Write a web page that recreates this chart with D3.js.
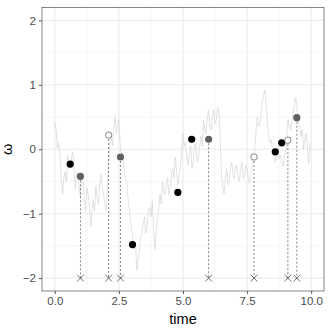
<!DOCTYPE html>
<html lang="en">
  <head>
    <meta charset="UTF-8" />
    <title></title>
    <script src="https://d3js.org/d3.v7.min.js"></script>
    <style>
      body { margin: 0; background: #fff; }
      text { font-family: 'Liberation Sans', Arial, sans-serif; }
    </style>
  </head>
  <body>
    <div id="my_dataviz"></div>
    <script>
      // path values, read every 0.05 time units from 0 to 10
      const pathTime = d3.range(0, 201).map(i => i / 20)
      const pathOmega = [
        0.42, 0.3, 0.02, 0.1, -0.12, -0.4, -0.7, -0.45, -0.35, -0.5,
        -0.1, -0.3, -0.25, -0.1, -0.04, -0.3, -0.62, -0.35, -0.4, -0.6,
        -0.74, -0.45, -0.5, -0.8, -0.95, -0.6, -0.7, -0.9, -1.2, -0.95,
        -0.8, -0.95, -0.58, -0.75, -0.85, -0.55, -0.38, -0.6, -0.7, -0.85,
        -0.95, -0.6, -0.17, 0.1, 0.2, 0.05, 0.35, 0.5, 0.25, 0.4,
        0.46, 0.1, -0.15, -0.05, -0.3, -0.45, -0.5, -0.75, -0.9, -1.1,
        -1.25, -1.4, -1.55, -1.45, -1.88, -1.7, -1.55, -1.35, -1.3, -1.15,
        -1.05, -1.3, -1.2, -0.95, -0.9, -1.05, -0.8, -1.2, -1.55, -1.3,
        -1.1, -0.95, -0.7, -0.85, -0.5, -0.65, -0.7, -0.55, -0.45, -0.7,
        -0.6, -0.4, -0.3, -0.45, -0.12, -0.35, -0.55, -0.4, -0.25, -0.05,
        0.25, 0.05, 0.1, -0.1, -0.25, -0.05, 0.05, -0.3, -0.2, 0.05,
        0.1, -0.2, -0.15, 0.05, 0.2, 0.05, 0.45, 0.3, 0.25, 0.5,
        0.6, 0.35, 0.3, 0.5, 0.62, 0.4, 0.45, 0.65, 0.63, 0.2,
        -0.4, -0.55, -0.69, -0.45, -0.3, -0.55, -0.5, -0.3, -0.2, -0.4,
        -0.45, -0.25, -0.25, -0.45, -0.5, -0.3, -0.2, -0.45, -0.4, -0.25,
        -0.3, -0.45, -0.53, -0.35, -0.25, -0.12, 0.0, 0.3, 0.5, 0.35,
        0.4, 0.6, 0.75, 0.86, 0.92, 0.65, 0.4, 0.15, 0.1, 0.15,
        -0.05, 0.0, -0.2, -0.1, 0.05, -0.15, -0.1, -0.2, -0.27, -0.1,
        -0.05, 0.2, 0.45, 0.35, 0.3, 0.45, 0.55, 0.7, 0.81, 0.6,
        0.4, 0.35, 0.2, 0.3, 0.0, 0.15, 0.25, 0.05, -0.22, 0.05,
        0.1
      ]

      // black points (no observation)
      const hiddenTime = [0.6, 3.03, 4.8, 5.34, 8.6, 8.85]
      const hiddenOmega = [-0.23, -1.48, -0.67, 0.155, -0.04, 0.1]
      // grey points (observed)
      const obsTime = [1.0, 2.56, 6.0, 9.44]
      const obsOmega = [-0.42, -0.12, 0.155, 0.49]
      // open points (observed)
      const openTime = [2.1, 7.77, 9.09]
      const openOmega = [0.22, -0.12, 0.14]

      const xTicks = [0, 2.5, 5, 7.5, 10]
      const yTicks = [-2, -1, 0, 1, 2]
      const xMinor = [1.25, 3.75, 6.25, 8.75]
      const yMinor = [-1.5, -0.5, 0.5, 1.5]

      const W = 332, H = 332
      const margin = { top: 7.5, right: 8, bottom: 41, left: 42 }
      const width = W - margin.left - margin.right,
        height = H - margin.top - margin.bottom

      const svg = d3
        .select('#my_dataviz')
        .append('svg')
        .attr('width', W)
        .attr('height', H)
        .append('g')
        .attr('transform', `translate(${margin.left}, ${margin.top})`)

      const x = d3.scaleLinear().domain([-0.5, 10.5]).range([0, width])
      const y = d3.scaleLinear().domain([-2.2, 2.2]).range([height, 0])

      // grid
      svg.selectAll('.xminor').data(xMinor).join('line')
        .attr('x1', d => x(d)).attr('x2', d => x(d))
        .attr('y1', 0).attr('y2', height)
        .attr('stroke', '#f2f2f2').attr('stroke-width', 0.6)
      svg.selectAll('.yminor').data(yMinor).join('line')
        .attr('y1', d => y(d)).attr('y2', d => y(d))
        .attr('x1', 0).attr('x2', width)
        .attr('stroke', '#f2f2f2').attr('stroke-width', 0.6)
      svg.selectAll('.xmajor').data(xTicks).join('line')
        .attr('x1', d => x(d)).attr('x2', d => x(d))
        .attr('y1', 0).attr('y2', height)
        .attr('stroke', '#ebebeb').attr('stroke-width', 1.1)
      svg.selectAll('.ymajor').data(yTicks).join('line')
        .attr('y1', d => y(d)).attr('y2', d => y(d))
        .attr('x1', 0).attr('x2', width)
        .attr('stroke', '#ebebeb').attr('stroke-width', 1.1)

      // path
      const line = d3.line().x(d => x(d[0])).y(d => y(d[1]))
      svg.append('path')
        .datum(pathTime.map((t, i) => [t, pathOmega[i]]))
        .attr('d', line)
        .attr('fill', 'none')
        .attr('stroke', '#cfcfcf')
        .attr('stroke-width', 0.6)

      // dashed drop lines and crosses
      const dropT = obsTime.concat(openTime)
      const dropW = obsOmega.concat(openOmega)
      svg.selectAll('.drop').data(dropT).join('line')
        .attr('x1', d => x(d)).attr('x2', d => x(d))
        .attr('y1', (d, i) => y(dropW[i])).attr('y2', y(-2))
        .attr('stroke', '#333').attr('stroke-width', 0.6)
        .attr('stroke-dasharray', '2,2')
      const cr = 3.4
      svg.selectAll('.cross').data(dropT).join('path')
        .attr('d', d => `M${x(d) - cr},${y(-2) - cr}L${x(d) + cr},${y(-2) + cr}M${x(d) - cr},${y(-2) + cr}L${x(d) + cr},${y(-2) - cr}`)
        .attr('stroke', '#333').attr('stroke-width', 0.7).attr('fill', 'none')

      // points
      svg.selectAll('.hid').data(hiddenTime).join('circle')
        .attr('cx', d => x(d)).attr('cy', (d, i) => y(hiddenOmega[i]))
        .attr('r', 3.6).attr('fill', '#000')
      svg.selectAll('.obs').data(obsTime).join('circle')
        .attr('cx', d => x(d)).attr('cy', (d, i) => y(obsOmega[i]))
        .attr('r', 3.6).attr('fill', '#616161')
      svg.selectAll('.opn').data(openTime).join('circle')
        .attr('cx', d => x(d)).attr('cy', (d, i) => y(openOmega[i]))
        .attr('r', 3.2).attr('fill', '#fff')
        .attr('stroke', '#555').attr('stroke-width', 0.7)

      // panel border
      svg.append('rect')
        .attr('width', width).attr('height', height)
        .attr('fill', 'none').attr('stroke', '#333').attr('stroke-width', 0.6)

      // axes
      const xAxis = svg.append('g')
        .attr('transform', `translate(0, ${height})`)
        .call(d3.axisBottom(x).tickValues(xTicks).tickSize(3).tickPadding(3)
          .tickFormat(d3.format('.1f')))
      const yAxis = svg.append('g')
        .call(d3.axisLeft(y).tickValues(yTicks).tickSize(3).tickPadding(3)
          .tickFormat(d => d < 0 ? '\u2212' + Math.abs(d) : d))
      ;[xAxis, yAxis].forEach(a => {
        a.select('.domain').remove()
        a.selectAll('.tick line').attr('stroke', '#333').attr('stroke-width', 0.8)
        a.selectAll('.tick text').attr('fill', '#4d4d4d')
          .style('font-size', '11.5px')
          .style('font-family', "'Liberation Sans', Arial, sans-serif")
      })

      // axis titles
      svg.append('text')
        .attr('x', width / 2).attr('y', height + 33)
        .attr('text-anchor', 'middle')
        .style('font-size', '14.5px')
        .text('time')
      svg.append('text')
        .attr('transform', `translate(${-30}, ${height / 2}) rotate(-90)`)
        .attr('text-anchor', 'middle')
        .style('font-size', '14.5px')
        .text('ω')
    </script>
  </body>
</html>
